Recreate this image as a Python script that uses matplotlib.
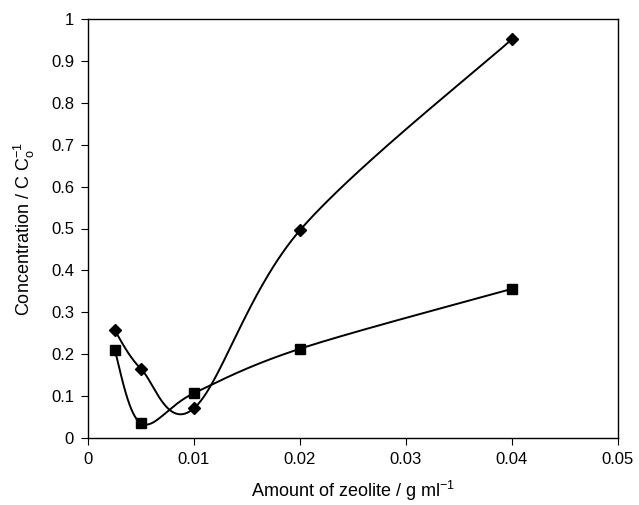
import numpy as np
import matplotlib.pyplot as plt

plt.rcParams['font.family'] = ['Liberation Sans', 'DejaVu Sans']
plt.rcParams['mathtext.fontset'] = 'custom'
plt.rcParams['mathtext.rm'] = 'Liberation Sans'
plt.rcParams['mathtext.it'] = 'Liberation Sans'

# amount of zeolite (g/ml)
dose = [0.0025, 0.005, 0.01, 0.02, 0.04]
# C/Co for the two series
conc_diamond = [0.258, 0.165, 0.071, 0.496, 0.952]
conc_square = [0.211, 0.035, 0.107, 0.213, 0.356]

xticks = [0, 0.01, 0.02, 0.03, 0.04, 0.05]
xticklabels = ['0', '0.01', '0.02', '0.03', '0.04', '0.05']
yticks = [0, 0.1, 0.2, 0.3, 0.4, 0.5, 0.6, 0.7, 0.8, 0.9, 1]
yticklabels = ['0', '0.1', '0.2', '0.3', '0.4', '0.5', '0.6', '0.7', '0.8', '0.9', '1']

XMAX, YMAX = 0.05, 1.0
W_PX, H_PX = 530.0, 419.0


def smooth(xs, ys, n=60):
    # bezier smoothing (catmull-rom style), done in screen-like units
    p = np.column_stack([np.asarray(xs) / XMAX * W_PX, np.asarray(ys) / YMAX * H_PX])
    pts = np.vstack([p[0], p, p[-1]])
    out = []
    t = np.linspace(0, 1, n)[:, None]
    for i in range(1, len(pts) - 2):
        p0, p1, p2, p3 = pts[i - 1], pts[i], pts[i + 1], pts[i + 2]
        c1 = p1 + (p2 - p0) / 6.0
        c2 = p2 - (p3 - p1) / 6.0
        seg = ((1 - t) ** 3) * p1 + 3 * ((1 - t) ** 2) * t * c1 + 3 * (1 - t) * t ** 2 * c2 + t ** 3 * p2
        out.append(seg if i == 1 else seg[1:])
    out = np.vstack(out)
    return out[:, 0] / W_PX * XMAX, out[:, 1] / H_PX * YMAX


fig = plt.figure(figsize=(6.39, 5.05), dpi=100)
ax = fig.add_axes([88 / 639, 1 - 438 / 505, 530 / 639, 419 / 505])

sx, sy = smooth(dose, conc_diamond)
ax.plot(sx, sy, color='black', lw=1.4)
ax.plot(dose, conc_diamond, ls='none', marker='D', ms=6, color='black')

sx, sy = smooth(dose, conc_square)
ax.plot(sx, sy, color='black', lw=1.4)
ax.plot(dose, conc_square, ls='none', marker='s', ms=7, color='black')

ax.set_xlim(0, XMAX)
ax.set_ylim(0, YMAX)
ax.set_xticks(xticks)
ax.set_xticklabels(xticklabels)
ax.set_yticks(yticks)
ax.set_yticklabels(yticklabels)
ax.tick_params(direction='out', length=5, width=0.8, labelsize=12, pad=5)

for s in ax.spines.values():
    s.set_linewidth(1.0)

ax.set_xlabel('Amount of zeolite / g ml$^{-1}$', fontsize=13, labelpad=9)
ax.set_ylabel('Concentration / C C$_{o}^{-1}$', fontsize=13, labelpad=10)

fig.savefig('out.png', dpi=100)
